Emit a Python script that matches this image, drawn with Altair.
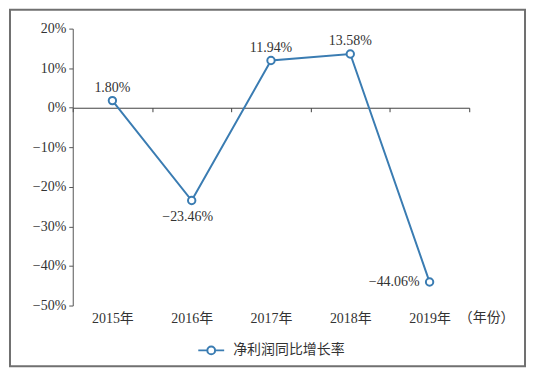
import altair as alt
import pandas as pd

years = ["2015年", "2016年", "2017年", "2018年", "2019年"]
values = [0.0180, -0.2346, 0.1194, 0.1358, -0.4406]
labels = ["1.80%", "−23.46%", "11.94%", "13.58%", "−44.06%"]
series = "净利润同比增长率"
x_title = "（年份）"
y_ticks = [0.2, 0.1, 0.0, -0.1, -0.2, -0.3, -0.4, -0.5]

df = pd.DataFrame({"year": years, "value": values, "label": labels, "series": [series] * len(years)})

FONT = "Liberation Serif, Noto Sans CJK SC"
BLUE = "#3a7cb2"
W, H = 398, 278
YMIN, YMAX = -0.5, 0.2
zero_from_bottom = H * (0 - YMIN) / (YMAX - YMIN)

xenc = alt.X(
    "year:N",
    sort=years,
    bandPosition=0.5,
    scale=alt.Scale(type="band", paddingInner=0, paddingOuter=0),
    axis=alt.Axis(
        title=x_title,
        titleFont="Noto Sans CJK SC",
        titleFontSize=14,
        titleFontWeight="normal",
        titleColor="#333333",
        titleX=387,
        titleY=211,
        titleAlign="left",
        titleBaseline="middle",
        orient="bottom",
        offset=-zero_from_bottom,
        tickBand="extent",
        tickSize=4,
        tickColor="#404040",
        domainColor="#404040",
        labelPadding=201,
        labelFont=FONT,
        labelFontSize=14,
        labelColor="#333333",
        labelAngle=0,
        labelOverlap=False,
        labelBound=False,
        grid=False,
    ),
)

yenc = alt.Y(
    "value:Q",
    scale=alt.Scale(domain=[YMIN, YMAX], nice=False, zero=False),
    axis=alt.Axis(
        title=None,
        format=".0%",
        values=y_ticks,
        tickSize=4,
        tickColor="#555555",
        domainColor="#555555",
        labelFont=FONT,
        labelFontSize=14,
        labelColor="#333333",
        labelPadding=3,
        labelOverlap=False,
        labelBound=False,
        labelFlush=False,
        grid=False,
    ),
)

symbol_path = "M-1,0 L-0.3,0 M0.3,0 L1,0 M-0.3,0 A0.3,0.3 0 1,1 0.3,0 A0.3,0.3 0 1,1 -0.3,0 Z"

base = alt.Chart(df).encode(x=xenc, y=yenc)

line = base.mark_line(strokeWidth=2).encode(
    color=alt.Color(
        "series:N",
        scale=alt.Scale(range=[BLUE]),
        legend=alt.Legend(
            title=None,
            orient="none",
            legendX=125,
            legendY=309,
            symbolType=symbol_path,
            symbolSize=676,
            symbolStrokeWidth=2,
            symbolFillColor="white",
            symbolStrokeColor=BLUE,
            labelFont=FONT,
            labelFontSize=14,
            labelColor="#333333",
            labelOffset=8,
        ),
    ),
)

points = base.mark_point(filled=True, fill="white", stroke=BLUE, strokeWidth=2, size=55, opacity=1)

text_style = dict(font=FONT, fontSize=14, color="#333333", baseline="middle")

above = base.transform_filter("datum.value > 0").mark_text(dy=-13, **text_style).encode(text="label:N")
below = base.transform_filter("datum.value < 0 && datum.value > -0.3").mark_text(dy=17, dx=-4, **text_style).encode(text="label:N")
left = base.transform_filter("datum.value <= -0.3").mark_text(dx=-10, align="right", **text_style).encode(text="label:N")

frame = alt.Chart(pd.DataFrame({"a": [0]})).mark_rect(
    fill=None, stroke="#707070", strokeWidth=2, clip=False
).encode(
    x=alt.value(-63), x2=alt.value(454), y=alt.value(-19), y2=alt.value(339)
)

chart = alt.layer(frame, line, points, above, below, left).properties(
    width=W,
    height=H,
    background="white",
    autosize=alt.AutoSizeParams(type="none"),
    padding={"left": 65, "top": 20, "right": 60, "bottom": 62},
).configure_view(stroke=None)

chart.save("out.html", embed_options={"renderer": "svg", "actions": False})
